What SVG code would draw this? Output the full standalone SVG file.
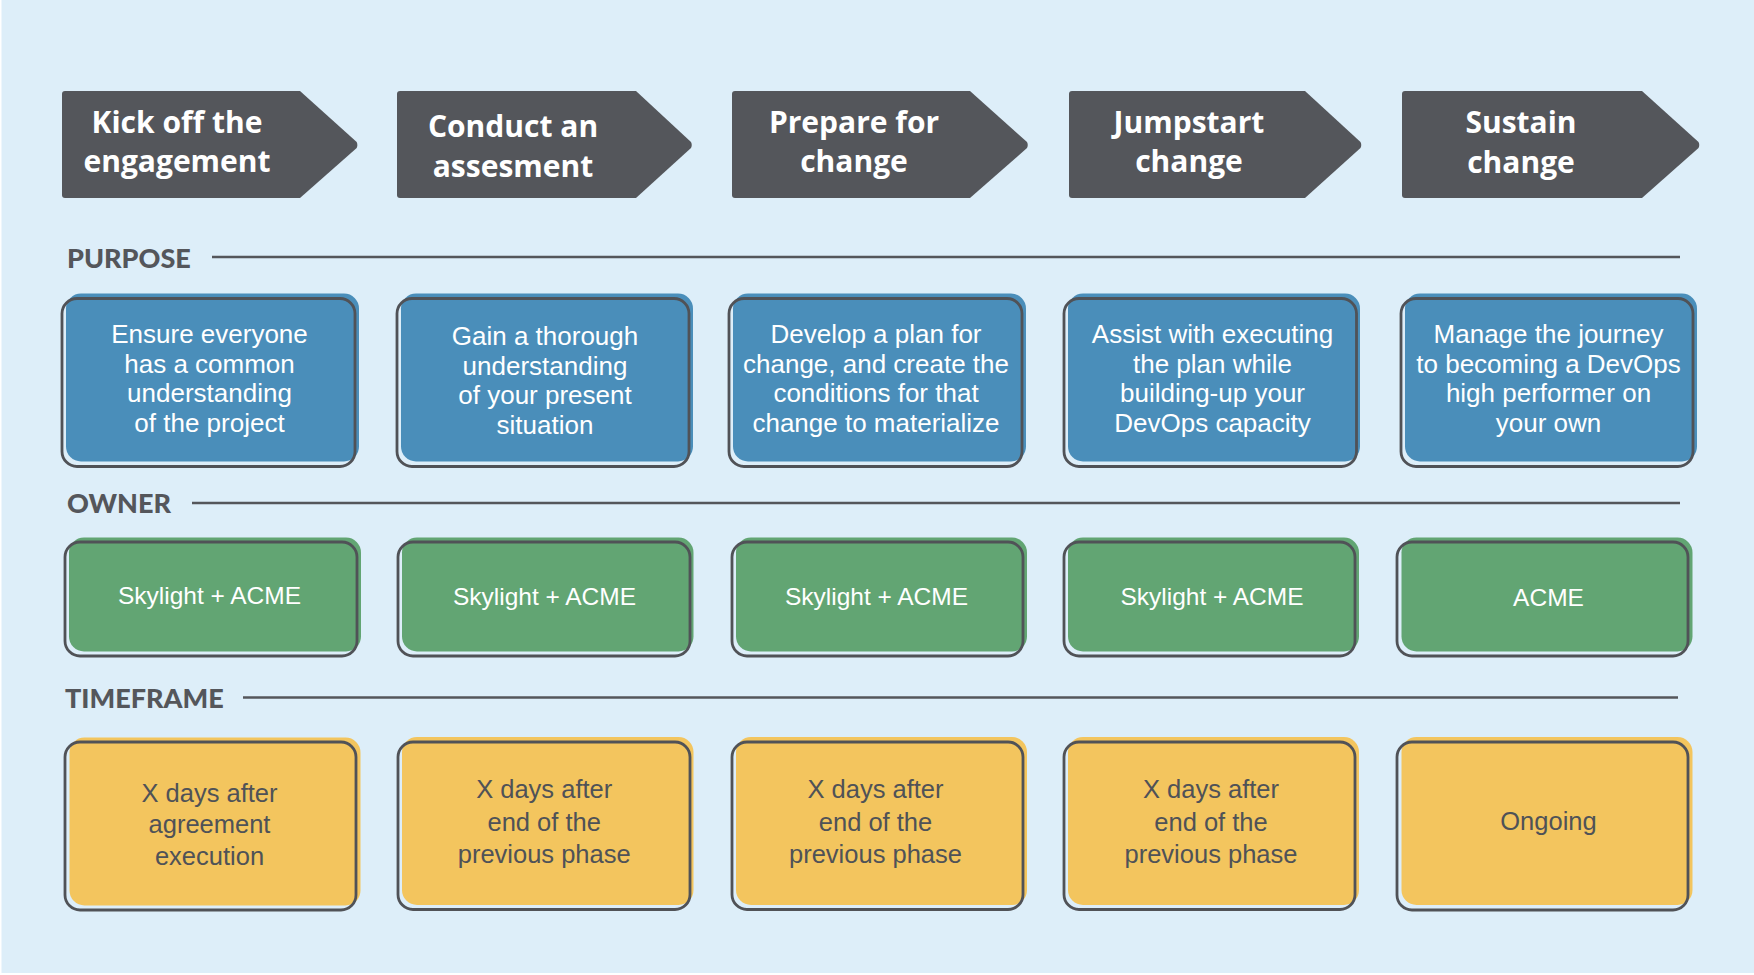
<svg xmlns="http://www.w3.org/2000/svg" width="1754" height="975" viewBox="0 0 1754 975">
<style>
.ph{font-family:"Open Sans","Liberation Sans",sans-serif;font-weight:700;font-size:30px;fill:#ffffff;text-anchor:middle}
.sec{font-family:Lato,"Liberation Sans",sans-serif;font-weight:900;font-size:27px;fill:#54565B}
.pt{font-family:"Liberation Sans",Arial,sans-serif;font-weight:400;font-size:26px;fill:#ffffff;text-anchor:middle}
.ot{font-family:"Liberation Sans",Arial,sans-serif;font-weight:400;font-size:24.5px;fill:#ffffff;text-anchor:middle}
.tt{font-family:"Liberation Sans",Arial,sans-serif;font-weight:400;font-size:25.5px;fill:#4F5257;text-anchor:middle}
.arrow{fill:#54565B}
.ol{fill:none;stroke:#505257;stroke-width:2.8}
.blue{fill:#4A8EBA}
.green{fill:#62A573}
.yellow{fill:#F3C55E}
.rule{stroke:#54565B;stroke-width:2.6}
</style>
<rect x="0" y="0" width="1754" height="975" fill="#ffffff"/>
<rect x="1.5" y="0" width="1752.5" height="973" fill="#DDEEF9"/>

<g id="phase-1">
<path class="arrow" d="M65,91 H300 L356.7,142 Q358,145 356.7,148 L300,198 H65 Q62,198 62,195 V94 Q62,91 65,91 Z"/>
<text class="ph" x="177" y="133">Kick off the</text>
<text class="ph" x="177" y="172">engagement</text>
</g>
<g id="phase-2">
<path class="arrow" d="M400,91 H636 L691,142 Q692.5,145 691,148 L636,198 H400 Q397,198 397,195 V94 Q397,91 400,91 Z"/>
<text class="ph" x="513" y="136.5">Conduct an</text>
<text class="ph" x="513" y="176.5">assesment</text>
</g>
<g id="phase-3">
<path class="arrow" d="M735,91 H970 L1027,142 Q1028.5,145 1027,148 L970,198 H735 Q732,198 732,195 V94 Q732,91 735,91 Z"/>
<text class="ph" x="854" y="133">Prepare for</text>
<text class="ph" x="854" y="172">change</text>
</g>
<g id="phase-4">
<path class="arrow" d="M1072,91 H1305 L1360.5,142 Q1362,145 1360.5,148 L1305,198 H1072 Q1069,198 1069,195 V94 Q1069,91 1072,91 Z"/>
<text class="ph" x="1189" y="133">Jumpstart</text>
<text class="ph" x="1189" y="172">change</text>
</g>
<g id="phase-5">
<path class="arrow" d="M1405,91 H1642 L1698.5,142 Q1700,145 1698.5,148 L1642,198 H1405 Q1402,198 1402,195 V94 Q1402,91 1405,91 Z"/>
<text class="ph" x="1521" y="133">Sustain</text>
<text class="ph" x="1521" y="172.5">change</text>
</g>

<g id="section-labels">
<text class="sec" x="67" y="268">PURPOSE</text>
<text class="sec" x="67" y="513">OWNER</text>
<text class="sec" x="65" y="708">TIMEFRAME</text>
</g>

<g id="connectors">
<line class="rule" x1="212" y1="257" x2="1680" y2="257"/>
<line class="rule" x1="192" y1="503" x2="1680" y2="503"/>
<line class="rule" x1="243" y1="697.5" x2="1678" y2="697.5"/>
</g>

<g id="purpose-1">
<rect class="blue" x="66" y="293.5" width="293" height="168" rx="15"/>
<rect class="ol" x="62" y="298.5" width="293" height="168" rx="15"/>
<text class="pt" x="209.5" y="343">Ensure everyone</text>
<text class="pt" x="209.5" y="372.5">has a common</text>
<text class="pt" x="209.5" y="402">understanding</text>
<text class="pt" x="209.5" y="431.5">of the project</text>
</g>
<g id="purpose-2">
<rect class="blue" x="401" y="293.5" width="292" height="168" rx="15"/>
<rect class="ol" x="397" y="298.5" width="292" height="168" rx="15"/>
<text class="pt" x="545" y="345">Gain a thorough</text>
<text class="pt" x="545" y="374.5">understanding</text>
<text class="pt" x="545" y="404">of your present</text>
<text class="pt" x="545" y="433.5">situation</text>
</g>
<g id="purpose-3">
<rect class="blue" x="733" y="293.5" width="293" height="168" rx="15"/>
<rect class="ol" x="729" y="298.5" width="293" height="168" rx="15"/>
<text class="pt" x="876" y="343">Develop a plan for</text>
<text class="pt" x="876" y="372.5">change, and create the</text>
<text class="pt" x="876" y="402">conditions for that</text>
<text class="pt" x="876" y="431.5">change to materialize</text>
</g>
<g id="purpose-4">
<rect class="blue" x="1068" y="293.5" width="292" height="168" rx="15"/>
<rect class="ol" x="1064" y="298.5" width="292.5" height="168" rx="15"/>
<text class="pt" x="1212.5" y="343">Assist with executing</text>
<text class="pt" x="1212.5" y="372.5">the plan while</text>
<text class="pt" x="1212.5" y="402">building-up your</text>
<text class="pt" x="1212.5" y="431.5">DevOps capacity</text>
</g>
<g id="purpose-5">
<rect class="blue" x="1405" y="293.5" width="292" height="168" rx="15"/>
<rect class="ol" x="1401" y="298.5" width="292" height="168" rx="15"/>
<text class="pt" x="1548.5" y="343">Manage the journey</text>
<text class="pt" x="1548.5" y="372.5">to becoming a DevOps</text>
<text class="pt" x="1548.5" y="402">high performer on</text>
<text class="pt" x="1548.5" y="431.5">your own</text>
</g>

<g id="owner-1">
<rect class="green" x="69" y="537.5" width="292" height="114" rx="15"/>
<rect class="ol" x="65" y="542" width="292" height="114" rx="15"/>
<text class="ot" x="209.5" y="604">Skylight + ACME</text>
</g>
<g id="owner-2">
<rect class="green" x="402" y="537.5" width="291.5" height="114" rx="15"/>
<rect class="ol" x="398" y="542" width="292" height="114" rx="15"/>
<text class="ot" x="544.5" y="605">Skylight + ACME</text>
</g>
<g id="owner-3">
<rect class="green" x="736" y="537.5" width="291" height="114" rx="15"/>
<rect class="ol" x="732" y="542" width="291" height="114" rx="15"/>
<text class="ot" x="876.5" y="605">Skylight + ACME</text>
</g>
<g id="owner-4">
<rect class="green" x="1068" y="537.5" width="291" height="114" rx="15"/>
<rect class="ol" x="1064" y="542" width="291" height="114" rx="15"/>
<text class="ot" x="1212" y="605">Skylight + ACME</text>
</g>
<g id="owner-5">
<rect class="green" x="1401.5" y="537.5" width="291" height="114" rx="15"/>
<rect class="ol" x="1397" y="542" width="291" height="114" rx="15"/>
<text class="ot" x="1548.5" y="606">ACME</text>
</g>

<g id="timeframe-1">
<rect class="yellow" x="69.5" y="737.5" width="291" height="168" rx="15"/>
<rect class="ol" x="65" y="742" width="291" height="168" rx="15"/>
<text class="tt" x="209.5" y="801.5">X days after</text>
<text class="tt" x="209.5" y="833">agreement</text>
<text class="tt" x="209.5" y="865">execution</text>
</g>
<g id="timeframe-2">
<rect class="yellow" x="402" y="737" width="291.5" height="168" rx="15"/>
<rect class="ol" x="398" y="742" width="292" height="167.5" rx="15"/>
<text class="tt" x="544.2" y="798.3">X days after</text>
<text class="tt" x="544.2" y="830.5">end of the</text>
<text class="tt" x="544.2" y="863.3">previous phase</text>
</g>
<g id="timeframe-3">
<rect class="yellow" x="736" y="737" width="291" height="168" rx="15"/>
<rect class="ol" x="732" y="742" width="291" height="167.5" rx="15"/>
<text class="tt" x="875.5" y="798.3">X days after</text>
<text class="tt" x="875.5" y="830.5">end of the</text>
<text class="tt" x="875.5" y="863.3">previous phase</text>
</g>
<g id="timeframe-4">
<rect class="yellow" x="1068" y="737" width="291" height="168" rx="15"/>
<rect class="ol" x="1064" y="742" width="291" height="167.5" rx="15"/>
<text class="tt" x="1211" y="798.3">X days after</text>
<text class="tt" x="1211" y="830.5">end of the</text>
<text class="tt" x="1211" y="863.3">previous phase</text>
</g>
<g id="timeframe-5">
<rect class="yellow" x="1401.5" y="737" width="291" height="168" rx="15"/>
<rect class="ol" x="1397" y="742" width="291" height="168" rx="15"/>
<text class="tt" x="1548.5" y="830">Ongoing</text>
</g>
</svg>
